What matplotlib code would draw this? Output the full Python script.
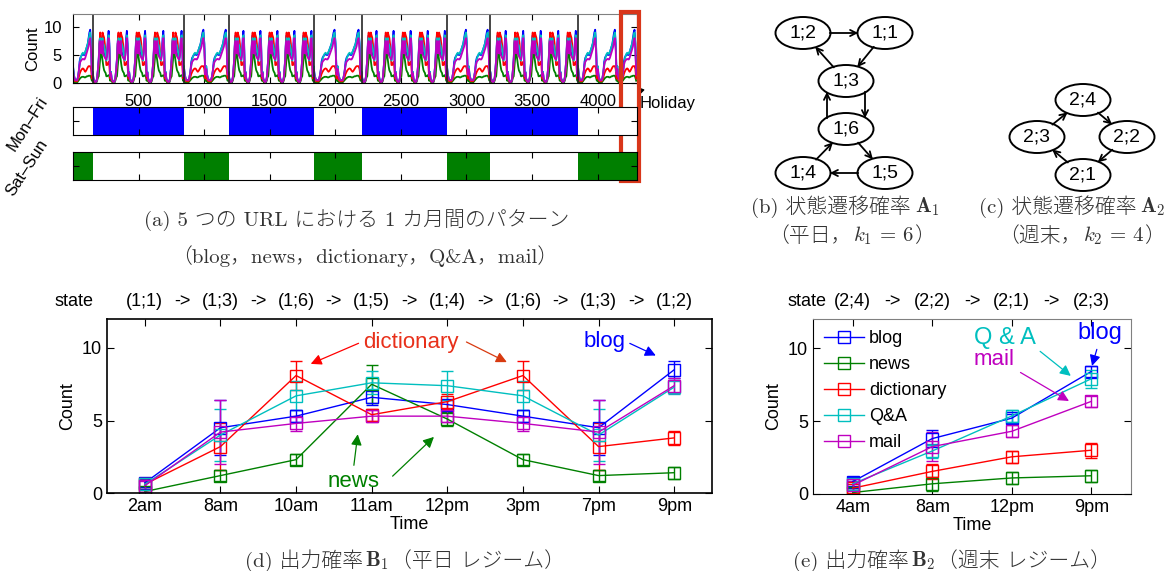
import numpy as np
import matplotlib.pyplot as plt
from matplotlib.patches import Ellipse, FancyArrowPatch, Rectangle
from matplotlib.transforms import blended_transform_factory

plt.rcParams['font.family'] = ['Liberation Sans', 'DejaVu Sans']
plt.rcParams['mathtext.fontset'] = 'cm'

W, H = 1174, 571

# ---------------- data ----------------
series = ['blog', 'news', 'dictionary', 'Q&A', 'mail']
colors = ['#0000ff', '#008000', '#ff0000', '#00bfbf', '#bf00bf']

# (a) hourly profile of one day, hours 0..23
hours = np.arange(24)
weekday_profile = {
    'blog':       [2.0, 0.8, 0.5, 0.3, 0.2, 0.3, 1.0, 2.5, 4.5, 7.5, 8.5, 6.6, 6.1, 8.0, 5.5, 5.3, 5.0, 4.6, 4.5, 5.5, 8.0, 9.3, 7.0, 1.5],
    'news':       [0.8, 0.3, 0.1, 0.0, 0.0, 0.1, 0.5, 1.0, 1.2, 3.0, 4.5, 7.5, 5.0, 4.0, 3.0, 2.3, 2.0, 1.8, 1.2, 1.2, 1.3, 1.4, 1.2, 0.4],
    'dictionary': [1.0, 0.5, 0.3, 0.2, 0.2, 0.3, 0.8, 2.0, 3.2, 7.0, 9.0, 5.4, 6.2, 9.0, 8.5, 8.1, 7.0, 5.0, 3.2, 3.2, 3.5, 3.8, 3.0, 0.8],
    'Q&A':        [2.0, 0.8, 0.5, 0.3, 0.2, 0.3, 1.0, 2.5, 4.0, 7.0, 8.0, 7.6, 7.4, 8.0, 7.0, 6.7, 6.0, 5.0, 4.0, 5.0, 7.0, 8.5, 6.5, 1.5],
    'mail':       [1.8, 0.7, 0.4, 0.2, 0.2, 0.3, 1.0, 2.5, 4.2, 7.0, 7.5, 5.3, 5.3, 7.5, 5.0, 4.8, 4.5, 4.3, 4.2, 5.0, 7.0, 8.0, 6.0, 1.2],
}
weekend_profile = {
    'blog':       [3.0, 1.5, 0.8, 0.5, 0.5, 0.5, 1.0, 2.0, 3.8, 4.5, 4.8, 5.0, 5.2, 5.0, 5.0, 5.5, 6.0, 6.5, 7.0, 8.0, 9.0, 9.5, 7.0, 2.0],
    'news':       [0.5, 0.2, 0.1, 0.0, 0.0, 0.1, 0.3, 0.5, 0.7, 0.9, 1.0, 1.1, 1.1, 1.1, 1.0, 1.0, 1.1, 1.2, 1.2, 1.3, 1.3, 1.3, 1.0, 0.4],
    'dictionary': [1.2, 0.6, 0.4, 0.3, 0.3, 0.3, 0.6, 1.0, 1.6, 2.0, 2.3, 2.5, 2.6, 2.5, 2.2, 2.0, 2.2, 2.5, 2.8, 3.0, 3.0, 3.0, 2.5, 0.8],
    'Q&A':        [3.0, 1.5, 0.8, 0.5, 0.5, 0.5, 1.0, 2.0, 3.0, 4.2, 4.8, 5.2, 5.4, 5.2, 5.2, 5.6, 6.0, 6.5, 7.0, 7.8, 8.5, 9.0, 7.0, 2.0],
    'mail':       [2.5, 1.2, 0.7, 0.5, 0.5, 0.5, 1.0, 2.0, 3.2, 3.8, 4.0, 4.2, 4.3, 4.2, 4.2, 4.5, 5.0, 5.5, 6.0, 6.5, 7.5, 8.0, 6.0, 1.5],
}
block_edges = [0, 150, 845, 1186, 1834, 2200, 2851, 3182, 3850, 4300]
block_kind = ['we', 'wd', 'we', 'wd', 'we', 'wd', 'we', 'wd', 'we']
block_days = [1, 5, 2, 5, 2, 5, 2, 5, 3]
holiday_span = (4175, 4315)
ts_ticks = [500, 1000, 1500, 2000, 2500, 3000, 3500, 4000]

# (d) weekday regime
times_d = ['2am', '8am', '10am', '11am', '12pm', '3pm', '7pm', '9pm']
states_d = ['(1;1)', '(1;3)', '(1;6)', '(1;5)', '(1;4)', '(1;6)', '(1;3)', '(1;2)']
mean_d = {
    'blog':       [0.7, 4.5, 5.3, 6.6, 6.1, 5.3, 4.5, 8.5],
    'news':       [0.1, 1.2, 2.3, 7.5, 5.1, 2.3, 1.2, 1.4],
    'dictionary': [0.6, 3.2, 8.1, 5.4, 6.3, 8.1, 3.2, 3.8],
    'Q&A':        [0.6, 4.0, 6.7, 7.6, 7.4, 6.7, 4.0, 7.3],
    'mail':       [0.5, 4.2, 4.8, 5.3, 5.3, 4.8, 4.2, 7.4],
}
err_d = {
    'blog':       [0.3, 1.9, 0.4, 0.5, 0.3, 0.4, 1.9, 0.6],
    'news':       [0.2, 0.4, 0.4, 1.3, 0.5, 0.4, 0.4, 0.4],
    'dictionary': [0.3, 1.6, 1.0, 0.4, 0.5, 1.0, 1.6, 0.5],
    'Q&A':        [0.3, 1.8, 1.0, 0.8, 1.0, 1.0, 1.8, 0.5],
    'mail':       [0.3, 2.2, 0.5, 0.4, 0.4, 0.5, 2.2, 0.5],
}

# (e) weekend regime
times_e = ['4am', '8am', '12pm', '9pm']
states_e = ['(2;4)', '(2;2)', '(2;1)', '(2;3)']
mean_e = {
    'blog':       [0.85, 3.8, 5.2, 8.4],
    'news':       [0.1, 0.7, 1.1, 1.25],
    'dictionary': [0.4, 1.55, 2.55, 3.0],
    'Q&A':        [0.7, 2.95, 5.35, 7.9],
    'mail':       [0.6, 3.25, 4.3, 6.35],
}
err_e = {
    'blog':       [0.3, 0.6, 0.3, 0.4],
    'news':       [0.2, 0.5, 0.4, 0.4],
    'dictionary': [0.3, 0.5, 0.4, 0.5],
    'Q&A':        [0.3, 0.5, 0.4, 0.6],
    'mail':       [0.3, 1.0, 0.4, 0.4],
}

# (b), (c) state transition graphs (node centres in figure pixels)
nodes_b = {'1;2': (803, 33), '1;1': (885, 33), '1;3': (846, 81),
           '1;6': (846, 129), '1;4': (803, 173), '1;5': (885, 173)}
edges_b = [('1;2', '1;1', 0), ('1;1', '1;3', 0), ('1;3', '1;2', 0),
           ('1;3', '1;6', 19), ('1;6', '1;3', -19), ('1;6', '1;5', 0),
           ('1;5', '1;4', 0), ('1;4', '1;6', 0)]
nodes_c = {'2;4': (1083, 100), '2;2': (1127, 137), '2;1': (1083, 175), '2;3': (1037, 137)}
edges_c = [('2;4', '2;2', 0), ('2;2', '2;1', 0), ('2;1', '2;3', 0), ('2;3', '2;4', 0)]


def rect(l, t, r, b):
    return [l / W, 1 - b / H, (r - l) / W, (b - t) / H]


fig = plt.figure(figsize=(W / 100, H / 100), dpi=100)
fig.patch.set_facecolor('white')
renderer = fig.canvas.get_renderer()

cap_font = ['cmr10', 'Noto Sans CJK JP', 'DejaVu Sans']
cap_color = '#333333'
cap_size = 15


def caption(xc, yc, pieces, gap=4):
    # pieces drawn left to right; math pieces rendered by mathtext, the rest with font fallback
    texts = [fig.text(0, 1 - yc / H, p, family=cap_font, fontsize=cap_size, weight='light',
                      color=cap_color, ha='left', va='center') for p in pieces]
    widths = [t.get_window_extent(renderer).width for t in texts]
    total = sum(widths) + gap * (len(texts) - 1)
    x = xc - total / 2
    for t, w in zip(texts, widths):
        t.set_x(x / W)
        x += w + gap


# ---------------- (a) time series ----------------
ax_ts = fig.add_axes(rect(73, 14, 637, 83))
ax_wd = fig.add_axes(rect(73, 107, 637, 135))
ax_we = fig.add_axes(rect(73, 152, 637, 180))

for name, c in zip(series, colors):
    xs, ys = [], []
    for k, kind in enumerate(block_kind):
        x0, x1 = block_edges[k], block_edges[k + 1]
        day_len = (x1 - x0) / block_days[k]
        prof = weekday_profile if kind == 'wd' else weekend_profile
        for d in range(block_days[k]):
            xs.extend(x0 + (d + hours / 24) * day_len)
            ys.extend(prof[name])
    ax_ts.plot(xs, ys, color=c, lw=1.3)

for e in block_edges[1:-1]:
    ax_ts.axvline(e, color='0.15', lw=1.2)

ax_ts.set_xlim(0, 4300)
ax_ts.set_ylim(0, 12.3)
ax_ts.set_yticks([0, 5, 10])
ax_ts.set_xticks(ts_ticks)
ax_ts.set_xticklabels([str(t) for t in ts_ticks])
ax_ts.tick_params(direction='in', top=True, right=True, labelsize=12, pad=8, length=4)
ax_ts.set_ylabel('Count', fontsize=12, labelpad=2)
ax_ts.spines['top'].set_color('0.5')

for k, kind in enumerate(block_kind):
    x0, x1 = block_edges[k], block_edges[k + 1]
    if kind == 'wd':
        ax_wd.axvspan(x0, x1, color='#0000ff', lw=0)
    else:
        ax_we.axvspan(x0, x1, color='#007f00', lw=0)

for a in (ax_wd, ax_we):
    a.set_xlim(0, 4300)
    a.set_ylim(0, 1)
    a.set_xticks(ts_ticks)
    a.set_yticks([0.5])
    a.set_xticklabels([])
    a.set_yticklabels([])
    a.tick_params(direction='in', top=True, right=True, length=4)

fig.text(28 / W, 1 - 124 / H, 'Mon–Fri', rotation=57, fontsize=12, ha='center', va='center')
fig.text(27 / W, 1 - 168 / H, 'Sat–Sun', rotation=57, fontsize=12, ha='center', va='center')

trans = blended_transform_factory(ax_ts.transData, fig.transFigure)
ax_ts.add_patch(Rectangle((holiday_span[0], 1 - 181 / H), holiday_span[1] - holiday_span[0],
                          169 / H, transform=trans, fill=False, edgecolor='#d9361a',
                          lw=3, clip_on=False, zorder=10))
ax_ts.annotate('', xy=(4288, -0.35), xytext=(4340, -1.6),
               arrowprops=dict(arrowstyle='-|>', color='black', lw=1, mutation_scale=9),
               annotation_clip=False)
ax_ts.text(4322, -3.6, 'Holiday', fontsize=12, ha='left', va='center', clip_on=False)

caption(357, 220, ['(a) 5 つの URL における 1 カ月間のパターン'])
caption(365, 256, ['（blog，news，dictionary，Q&A，mail）'])

# ---------------- (b), (c) graphs ----------------
ax_g = fig.add_axes([740 / W, 1 - 200 / H, 434 / W, 200 / H])
ax_g.set_xlim(740, 1174)
ax_g.set_ylim(200, 0)
ax_g.axis('off')


def draw_graph(nodes, edges):
    ells = {}
    for lab, (cx, cy) in nodes.items():
        e = Ellipse((cx, cy), 55, 32, fill=False, edgecolor='black', lw=1.4)
        ax_g.add_patch(e)
        ax_g.text(cx, cy, lab, fontsize=14, ha='center', va='center')
        ells[lab] = e
    for s, t, dx in edges:
        (x0, y0), (x1, y1) = nodes[s], nodes[t]
        arr = FancyArrowPatch((x0 + dx, y0), (x1 + dx, y1), patchA=ells[s], patchB=ells[t],
                              arrowstyle='->', mutation_scale=11, lw=1.3, color='black',
                              shrinkA=0, shrinkB=0)
        ax_g.add_patch(arr)


draw_graph(nodes_b, edges_b)
draw_graph(nodes_c, edges_c)

caption(845, 207, ['(b) 状態遷移確率', r'$\mathbf{A}_1$'])
caption(852, 236, ['（平日，', r'$k_1\,=\,6$', '）'], gap=1)
caption(1072, 207, ['(c) 状態遷移確率', r'$\mathbf{A}_2$'])
caption(1082, 236, ['（週末，', r'$k_2\,=\,4$', '）'], gap=1)


# ---------------- (d), (e) emission plots ----------------
def emission(ax, times, states, mean, err, state_x):
    x = np.arange(1, len(times) + 1)
    handles = []
    for name, c in zip(series, colors):
        cont = ax.errorbar(x, mean[name], yerr=err[name], color=c, marker='s', ms=9,
                           mfc='none', mew=1.0, lw=1.0, elinewidth=1.0, capsize=4)
        handles.append(cont.lines[0])
    ax.set_xlim(0.5, len(times) + 0.5)
    ax.set_ylim(0, 12)
    ax.set_xticks(x)
    ax.set_xticklabels(times)
    ax.set_yticks([0, 5, 10])
    ax.tick_params(direction='in', top=True, right=True, labelsize=13, length=5)
    ax.set_xlabel('Time', fontsize=13, labelpad=1)
    ax.set_ylabel('Count', fontsize=13)
    tr = blended_transform_factory(ax.transData, ax.transAxes)
    for i, s in enumerate(states):
        ax.text(x[i], 1.1, s, transform=tr, ha='center', va='center', fontsize=13)
        if i < len(states) - 1:
            ax.text(x[i] + 0.5, 1.1, '->', transform=tr, ha='center', va='center', fontsize=13)
    ax.text(state_x, 1.1, 'state', transform=ax.transAxes, ha='center', va='center', fontsize=13)
    return handles


ax_d = fig.add_axes(rect(107, 319, 712, 493))
emission(ax_d, times_d, states_d, mean_d, err_d, -0.055)
for sp in ax_d.spines.values():
    sp.set_linewidth(1.2)

arw = dict(arrowstyle='-|>', lw=0.9, mutation_scale=16)
ax_d.text(4.52, 10.37, 'dictionary', color='#e8301a', fontsize=16, ha='center', va='center')
ax_d.annotate('', xy=(3.16, 8.83), xytext=(3.86, 10.4), arrowprops=dict(arw, color='#ff0000'))
ax_d.annotate('', xy=(5.82, 8.94), xytext=(5.22, 10.5), arrowprops=dict(arw, color='#d83a10'))
ax_d.text(7.08, 10.44, 'blog', color='#0000ff', fontsize=16, ha='center', va='center')
ax_d.annotate('', xy=(7.79, 9.4), xytext=(7.38, 10.4), arrowprops=dict(arw, color='#0000ff'))
ax_d.text(3.76, 0.76, 'news', color='#008000', fontsize=16, ha='center', va='center')
ax_d.annotate('', xy=(3.82, 4.24), xytext=(3.76, 1.72), arrowprops=dict(arw, color='#008000'))
ax_d.annotate('', xy=(4.85, 4.0), xytext=(4.25, 1.03), arrowprops=dict(arw, color='#008000'))

caption(405, 561, ['(d) 出力確率', r'$\mathbf{B}_1$', '（平日 レジーム）'], gap=2)

ax_e = fig.add_axes(rect(813, 319, 1131, 494))
hs = emission(ax_e, times_e, states_e, mean_e, err_e, -0.02)
ax_e.spines['top'].set_color('0.5')
ax_e.spines['right'].set_color('0.5')
ax_e.legend(hs, series, loc='upper left', frameon=False, fontsize=13, handlelength=2.2,
            borderaxespad=0.2, labelspacing=0.5, handletextpad=0.3)

ax_e.text(2.91, 10.7, 'Q & A', color='#00bfbf', fontsize=17, ha='center', va='center')
ax_e.annotate('', xy=(3.77, 7.98), xytext=(3.33, 9.9), arrowprops=dict(arw, color='#00bfbf'))
ax_e.text(4.11, 11.04, 'blog', color='#0000ff', fontsize=17, ha='center', va='center')
ax_e.annotate('', xy=(4.0, 8.6), xytext=(4.08, 10.1), arrowprops=dict(arw, color='#0000ff'))
ax_e.text(2.78, 9.23, 'mail', color='#bf00bf', fontsize=16, ha='center', va='center')
ax_e.annotate('', xy=(3.75, 6.28), xytext=(3.08, 8.43), arrowprops=dict(arw, color='#bf00bf'))

caption(952, 561, ['(e) 出力確率', r'$\mathbf{B}_2$', '（週末 レジーム）'], gap=2)

fig.savefig('out.png', dpi=100)
